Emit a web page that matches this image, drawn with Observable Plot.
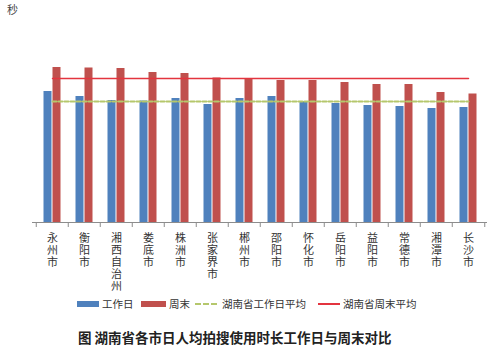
<!DOCTYPE html>
<html><head><meta charset="utf-8">
<script src="https://cdn.jsdelivr.net/npm/d3@7"></script>
<script src="https://cdn.jsdelivr.net/npm/@observablehq/plot@0.6"></script>
<style>
body{margin:0;background:#fff;font-family:"Noto Sans CJK SC","Noto Sans",sans-serif;}
#wrap{position:relative;width:494px;height:352px;overflow:hidden;background:#fff}
#chart{position:absolute;left:0;top:0}
#unit{position:absolute;left:7px;top:1px;font-size:11px;color:#444}
#legend{position:absolute;left:0;top:297px;width:494px;height:16px;font-size:10.5px;color:#333;white-space:nowrap}
#legend span{position:absolute}
.sw{top:4px;height:6px}
.ln{top:6px;height:2px}
.it{top:0;line-height:14px}
#title{position:absolute;left:78px;top:327px;font-size:13.5px;font-weight:bold;color:#222;white-space:nowrap}
</style></head>
<body>
<div id="wrap">
<div id="chart"></div>
<div id="unit"></div>
<div id="legend"></div>
<div id="title"></div>
</div>
<script>
const cities = ["永州市","衡阳市","湘西自治州","娄底市","株洲市","张家界市","郴州市","邵阳市","怀化市","岳阳市","益阳市","常德市","湘潭市","长沙市"];
const workday = [131,126,122,121.5,124,118,124,126,121,119,117,116,114,115];
const weekend = [155,154.5,154,150,149,144.5,144,142,142,140,138,138,130,128.5];
const avgWorkday = 121;
const avgWeekend = 144;
const unitLabel = "秒";
const legendLabels = ["工作日","周末","湖南省工作日平均","湖南省周末平均"];
const titleText = "图  湖南省各市日人均拍搜使用时长工作日与周末对比";

const colors = {work:"#4F81BD", week:"#C0504D", avgWork:"#B5C76C", avgWeek:"#E3343F"};
const rows = cities.map((c,i)=>({city:c, workday:workday[i], weekend:weekend[i]}));

const W = 494, H = 300, mL = 32, mR = 7;
const step = (W - mL - mR) / cities.length;
const barW = 8;
const pad = 1 - barW / step;

const plot = Plot.plot({
  width: W, height: H,
  marginLeft: mL, marginRight: mR, marginTop: 22, marginBottom: 78,
  style: {background: "transparent", fontFamily: '"Noto Sans CJK SC", sans-serif'},
  x: {domain: cities, paddingInner: pad, paddingOuter: pad/2, axis: null},
  y: {domain: [0, 200], axis: null},
  marks: [
    Plot.barY(rows, {x: "city", y: "workday", fill: colors.work, dx: -4.5}),
    Plot.barY(rows, {x: "city", y: "weekend", fill: colors.week, dx: 4.5}),
    Plot.lineY(rows, {x: "city", y: () => avgWorkday, stroke: colors.avgWork, strokeWidth: 2, strokeDasharray: "4,2"}),
    Plot.lineY(rows, {x: "city", y: () => avgWeekend, stroke: colors.avgWeek, strokeWidth: 1.5}),
    Plot.ruleY([0], {stroke: "#8c8c8c"}),
    Plot.ruleX(cities, {x: d => d, dx: -step/2, y1: 0, y2: -5, stroke: "#8c8c8c"}),
    Plot.ruleX([cities[cities.length-1]], {x: d => d, dx: step/2, y1: 0, y2: -5, stroke: "#8c8c8c"}),
    Plot.text(cities, {x: d => d, y: 0, text: d => d, textAnchor: "start", lineAnchor: "middle", dy: 6, fontSize: 11, fill: "#333"})
  ]
});
d3.select(plot).selectAll("text").filter(function(){ return this.parentNode.getAttribute("aria-label") === "text"; })
  .attr("writing-mode", "vertical-rl")
  .attr("letter-spacing", "1px")
  .attr("text-anchor", "start");
document.getElementById("chart").appendChild(plot);
document.getElementById("unit").textContent = unitLabel;
document.getElementById("title").textContent = titleText;
const lg = document.getElementById("legend");
lg.innerHTML =
  `<span class="sw" style="left:77px;width:22px;background:${colors.work}"></span>` +
  `<span class="it" style="left:102px">${legendLabels[0]}</span>` +
  `<span class="sw" style="left:141px;width:25px;background:${colors.week}"></span>` +
  `<span class="it" style="left:169px">${legendLabels[1]}</span>` +
  `<span class="ln" style="left:195px;width:22px;height:0;top:6px;border-top:2px dashed ${colors.avgWork}"></span>` +
  `<span class="it" style="left:222px">${legendLabels[2]}</span>` +
  `<span class="ln" style="left:318px;width:22px;background:${colors.avgWeek}"></span>` +
  `<span class="it" style="left:343px">${legendLabels[3]}</span>`;
</script>
</body></html>
